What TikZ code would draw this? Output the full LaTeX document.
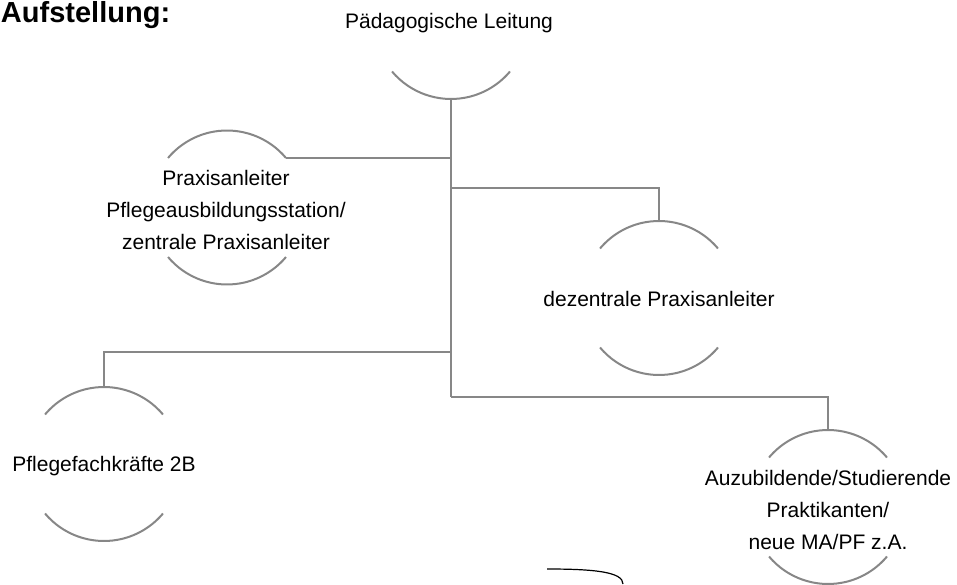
\documentclass[tikz,border=0pt]{standalone}
\usepackage{fontspec}
\setmainfont{Liberation Sans}
\usepackage{tikz}
\usetikzlibrary{positioning,calc}
\definecolor{lineGray}{RGB}{135,135,135}
\tikzset{
  every picture/.style={line width=2pt},
  sRing/.style={circle, minimum size=154pt, inner sep=0pt, outer sep=0pt},
  sArc/.style={draw=lineGray, line width=2pt},
  sLink/.style={draw=lineGray, line width=2pt},
  sLabel/.style={font=\fontsize{21}{32}\selectfont, align=center, inner sep=0pt},
  sTitle/.style={font=\fontsize{29}{35}\selectfont\bfseries, inner sep=0pt},
}

\begin{document}
\begin{tikzpicture}[x=1pt,y=1pt]
  \useasboundingbox (0,0) rectangle (957,584);
  \node[sTitle,anchor=base west] (title) at (0,561.5) {Aufstellung:};
  % rings (only the two arcs are drawn)
  \node[sRing] (lead) at (451,562) {};
  \node[sRing] (zpa)  at (227,376.5) {};
  \node[sRing] (dpa)  at (659,286) {};
  \node[sRing] (pfk)  at (104,120) {};
  \node[sRing] (azb)  at (828,77)  {};
  \foreach \r in {lead,zpa,dpa,pfk,azb}{
    \draw[sArc] (\r.40)  arc[start angle=40,  end angle=140, radius=77];
    \draw[sArc] (\r.220) arc[start angle=220, end angle=320, radius=77];
  }
  % texts
  \node[sLabel] (leadT) at (449,561) {Pädagogische Leitung};
  \node[sLabel] (zpaT)  at (226,374) {Praxisanleiter\\Pflegeausbildungsstation/\\zentrale Praxisanleiter};
  \node[sLabel] (dpaT)  at (659,285) {dezentrale Praxisanleiter};
  \node[sLabel] (pfkT)  at (104,118) {Pflegefachkräfte 2B};
  \node[sLabel] (azbT)  at (828,74)  {Auzubildende/Studierende\\Praktikanten/\\neue MA/PF z.A.};
  % tree links
  \coordinate (j1) at (lead.south |- zpa.40);
  \coordinate (j2) at (451,396);
  \coordinate (j3) at (451,232);
  \coordinate (j4) at (451,187);
  \draw[sLink] (lead.south) -- (j4);
  \draw[sLink] (j1) -- (zpa.40);
  \draw[sLink] (j2) -| (dpa.north);
  \draw[sLink] (j3) -| (pfk.north);
  \draw[sLink] (j4) -| (azb.north);
  % stray curve at the bottom edge
  \draw[line width=1.2pt] (547,15) .. controls (595,15) and (623,12) .. (623,0);
\end{tikzpicture}
\end{document}
